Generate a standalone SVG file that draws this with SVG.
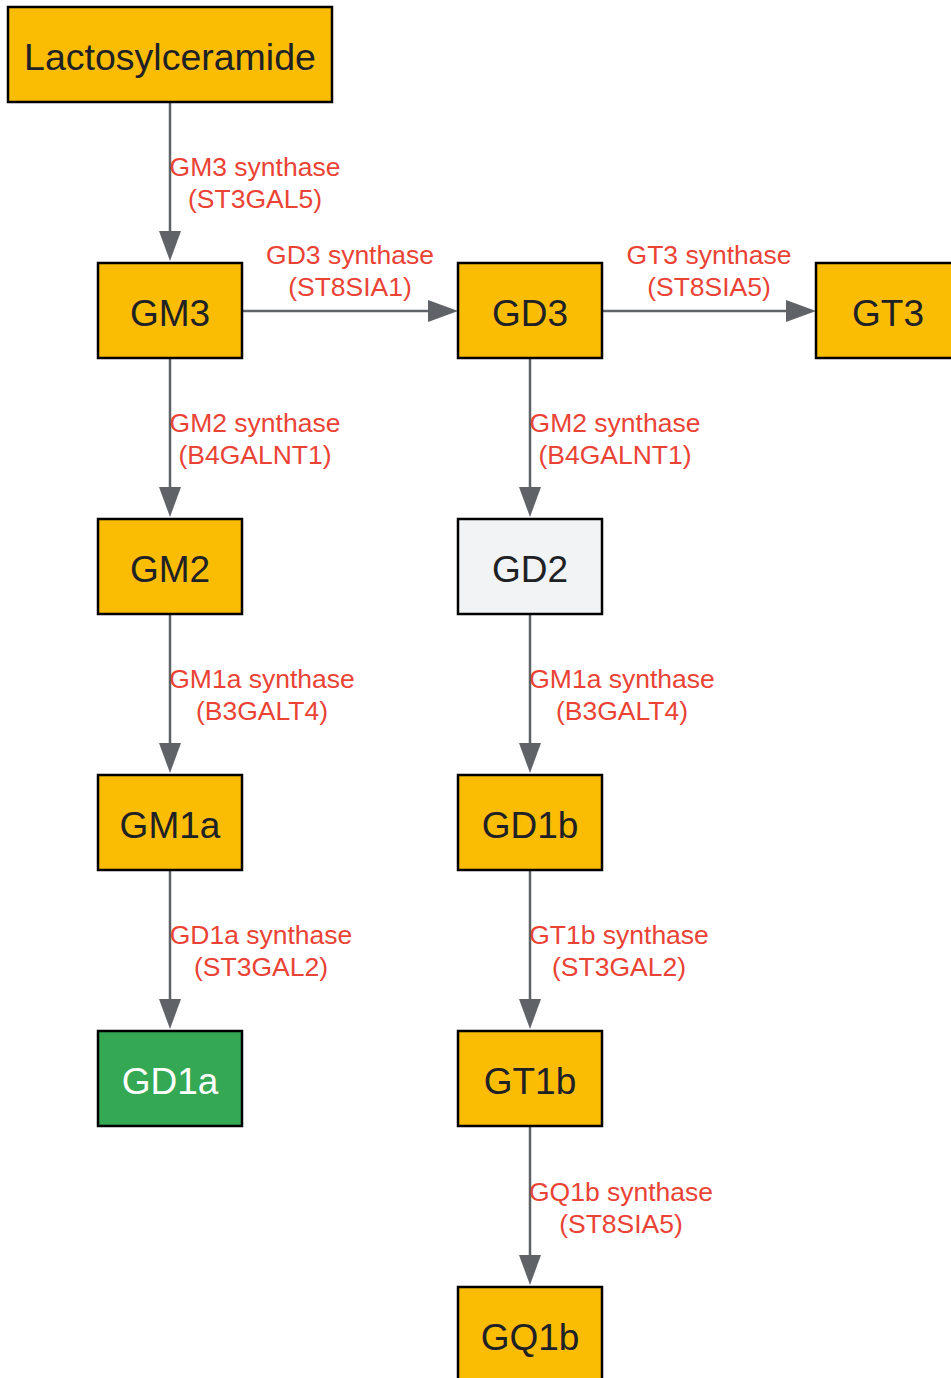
<svg xmlns="http://www.w3.org/2000/svg" width="951" height="1378" viewBox="0 0 951 1378">
<style>
.n{stroke:#000;stroke-width:2.5}
.y{fill:#fbbc04}
.g{fill:#f1f3f4}
.gr{fill:#34a853}
.t{font-family:"Liberation Sans",Arial,sans-serif;font-size:37px;fill:#202124;text-anchor:middle}
.tw{fill:#ffffff}
.e{stroke:#5f6368;stroke-width:2.5;fill:none;marker-end:url(#ah)}
.l{font-family:"Liberation Sans",Arial,sans-serif;font-size:26.5px;fill:#ea4335;text-anchor:middle}
</style>
<defs>
<marker id="ah" markerUnits="userSpaceOnUse" markerWidth="30" markerHeight="22" refX="2" refY="11" orient="auto" viewBox="0 0 30 22">
<path d="M0,0 L30,11 L0,22 z" fill="#5f6368"/>
</marker>
</defs>
<rect width="951" height="1378" fill="#ffffff"/>
<g id="connectors">
<line class="e" x1="170" y1="103" x2="170" y2="233"/>
<line class="e" x1="243" y1="311" x2="430" y2="311"/>
<line class="e" x1="603" y1="311" x2="788" y2="311"/>
<line class="e" x1="170" y1="359" x2="170" y2="489"/>
<line class="e" x1="530" y1="359" x2="530" y2="489"/>
<line class="e" x1="170" y1="615" x2="170" y2="745"/>
<line class="e" x1="530" y1="615" x2="530" y2="745"/>
<line class="e" x1="170" y1="871" x2="170" y2="1001"/>
<line class="e" x1="530" y1="871" x2="530" y2="1001"/>
<line class="e" x1="530" y1="1127" x2="530" y2="1257"/>
<text class="l" x="255" y="176">GM3 synthase</text>
<text class="l" x="255" y="208">(ST3GAL5)</text>
<text class="l" x="350" y="264">GD3 synthase</text>
<text class="l" x="350" y="296">(ST8SIA1)</text>
<text class="l" x="709" y="264">GT3 synthase</text>
<text class="l" x="709" y="296">(ST8SIA5)</text>
<text class="l" x="255" y="432">GM2 synthase</text>
<text class="l" x="255" y="464">(B4GALNT1)</text>
<text class="l" x="615" y="432">GM2 synthase</text>
<text class="l" x="615" y="464">(B4GALNT1)</text>
<text class="l" x="262" y="688">GM1a synthase</text>
<text class="l" x="262" y="720">(B3GALT4)</text>
<text class="l" x="622" y="688">GM1a synthase</text>
<text class="l" x="622" y="720">(B3GALT4)</text>
<text class="l" x="261" y="944">GD1a synthase</text>
<text class="l" x="261" y="976">(ST3GAL2)</text>
<text class="l" x="619" y="944">GT1b synthase</text>
<text class="l" x="619" y="976">(ST3GAL2)</text>
<text class="l" x="621" y="1201">GQ1b synthase</text>
<text class="l" x="621" y="1233">(ST8SIA5)</text>
</g>
<g id="lactosylceramide"><rect class="n y" x="8" y="7" width="324" height="95"/><text class="t" x="170" y="70" style="font-size:37.5px">Lactosylceramide</text></g>
<g id="gm3"><rect class="n y" x="98" y="263" width="144" height="95"/><text class="t" x="170" y="326">GM3</text></g>
<g id="gd3"><rect class="n y" x="458" y="263" width="144" height="95"/><text class="t" x="530" y="326">GD3</text></g>
<g id="gt3"><rect class="n y" x="816" y="263" width="144" height="95"/><text class="t" x="888" y="326">GT3</text></g>
<g id="gm2"><rect class="n y" x="98" y="519" width="144" height="95"/><text class="t" x="170" y="582">GM2</text></g>
<g id="gd2"><rect class="n g" x="458" y="519" width="144" height="95"/><text class="t" x="530" y="582">GD2</text></g>
<g id="gm1a"><rect class="n y" x="98" y="775" width="144" height="95"/><text class="t" x="170" y="838">GM1a</text></g>
<g id="gd1b"><rect class="n y" x="458" y="775" width="144" height="95"/><text class="t" x="530" y="838">GD1b</text></g>
<g id="gd1a"><rect class="n gr" x="98" y="1031" width="144" height="95"/><text class="t tw" x="170" y="1094">GD1a</text></g>
<g id="gt1b"><rect class="n y" x="458" y="1031" width="144" height="95"/><text class="t" x="530" y="1094">GT1b</text></g>
<g id="gq1b"><rect class="n y" x="458" y="1287" width="144" height="95"/><text class="t" x="530" y="1350">GQ1b</text></g>
</svg>
